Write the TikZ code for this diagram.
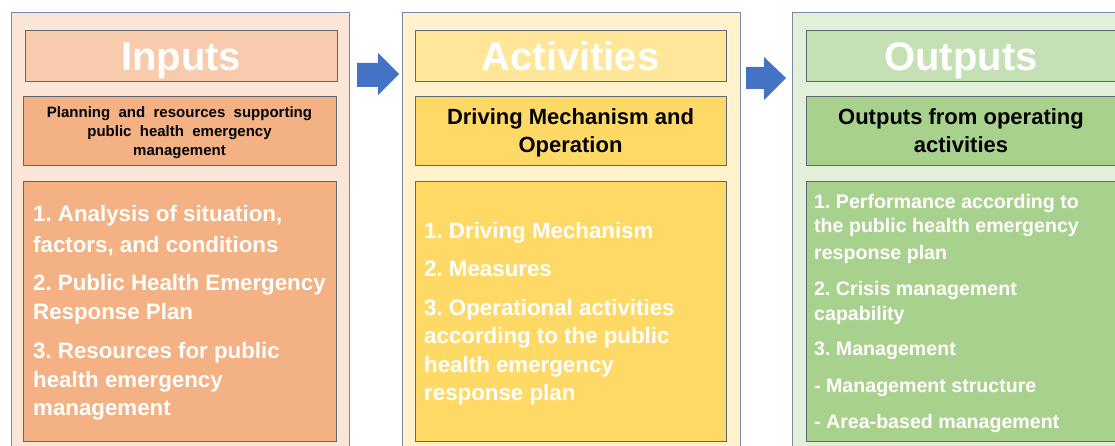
\documentclass[tikz,border=0pt]{standalone}
\usepackage{fontspec}
\setmainfont{Liberation Sans}
\newfontfamily\widefont[WordSpace=2.0]{Liberation Sans}
\frenchspacing
\definecolor{bgA}{HTML}{FBE5D6}
\definecolor{tiA}{HTML}{F8CBAD}
\definecolor{boA}{HTML}{F4B183}
\definecolor{bgB}{HTML}{FFF2CC}
\definecolor{tiB}{HTML}{FFE699}
\definecolor{boB}{HTML}{FFD966}
\definecolor{bgC}{HTML}{E2F0D9}
\definecolor{tiC}{HTML}{C5E0B4}
\definecolor{boC}{HTML}{A9D18E}
\definecolor{arrowblue}{HTML}{4472C4}
\definecolor{outerline}{HTML}{7A8AA6}
\definecolor{innerline}{HTML}{5E6977}
\begin{document}
\begin{tikzpicture}[x=1pt,y=-1pt,
  panel/.style={draw=outerline,line width=1pt},
  box/.style={draw=innerline,line width=1pt},
  titletext/.style={inner sep=0pt,anchor=base,text=white,font=\frenchspacing\bfseries\fontsize{40}{40}\selectfont},
  subtext/.style={inner sep=0pt,anchor=base,text=black,font=\frenchspacing\bfseries\fontsize{22}{22}\selectfont},
  subsmall/.style={inner sep=0pt,anchor=base,text=black,font=\frenchspacing\widefont\bfseries\fontsize{15}{15}\selectfont},
  lineA/.style={inner sep=0pt,anchor=base west,text=white,font=\frenchspacing\bfseries\fontsize{22.3}{22}\selectfont},
  lineC/.style={inner sep=0pt,anchor=base west,text=white,font=\frenchspacing\bfseries\fontsize{19.6}{19}\selectfont},
  blockarrow/.style={fill=arrowblue,draw=none}
]
\useasboundingbox (0,0) rectangle (1115,446);
\begin{scope}
\clip (0,0) rectangle (1115,446);
% panels
\filldraw[panel,fill=bgA] (11,13) rectangle (349,460);
\filldraw[panel,fill=bgB] (402,13) rectangle (740,460);
\filldraw[panel,fill=bgC] (792,13) rectangle (1130,460);
% title boxes
\filldraw[box,fill=tiA] (25,31) rectangle (337,82);
\filldraw[box,fill=tiB] (415,31) rectangle (726,82);
\filldraw[box,fill=tiC] (806,31) rectangle (1125,82);
% subtitle boxes
\filldraw[box,fill=boA] (23,97) rectangle (336,166);
\filldraw[box,fill=boB] (415,97) rectangle (726,166);
\filldraw[box,fill=boC] (806,97) rectangle (1125,166);
% content boxes
\filldraw[box,fill=boA] (23,182) rectangle (336,441);
\filldraw[box,fill=boB] (415,182) rectangle (726,441);
\filldraw[box,fill=boC] (806,182) rectangle (1125,441);
\end{scope}
% arrows
\fill[blockarrow] (357,63) -- (378,63) -- (378,53) -- (399,74) -- (378,95) -- (378,87) -- (357,87) -- cycle;
\fill[blockarrow] (746,67) -- (764,67) -- (764,57) -- (786,78) -- (764,100) -- (764,89) -- (746,89) -- cycle;
% titles
\node[titletext] (tA) at (181,71) {Inputs};
\node[titletext] (tB) at (570.5,71) {Activities};
\node[titletext] (tC) at (961,71) {Outputs};
% subtitles
\node[subsmall] (sA1) at (179.5,118) {Planning and resources supporting};
\node[subsmall] (sA2) at (179.5,137) {public health emergency};
\node[subsmall] (sA3) at (179.5,156) {management};
\node[subtext] (sB1) at (570.5,125) {Driving Mechanism and};
\node[subtext] (sB2) at (570.5,153) {Operation};
\node[subtext] (sC1) at (961,125) {Outputs from operating};
\node[subtext] (sC2) at (961,153) {activities};
% content A
\node[lineA] (a1) at (33,222) {1. Analysis of situation,};
\node[lineA] (a2) at (33,252) {factors, and conditions};
\node[lineA] (a3) at (33,290) {2. Public Health Emergency};
\node[lineA] (a4) at (33,319) {Response Plan};
\node[lineA] (a5) at (33,358) {3. Resources for public};
\node[lineA] (a6) at (33,387) {health emergency};
\node[lineA] (a7) at (33,415) {management};
% content B
\node[lineA] (b1) at (424,238) {1. Driving Mechanism};
\node[lineA] (b2) at (424,276) {2. Measures};
\node[lineA] (b3) at (424,315) {3. Operational activities};
\node[lineA] (b4) at (424,343) {according to the public};
\node[lineA] (b5) at (424,372) {health emergency};
\node[lineA] (b6) at (424,400) {response plan};
% content C
\node[lineC] (c1) at (814,209) {1. Performance according to};
\node[lineC] (c2) at (814,233) {the public health emergency};
\node[lineC] (c3) at (814,259) {response plan};
\node[lineC] (c4) at (814,295) {2. Crisis management};
\node[lineC] (c5) at (814,320) {capability};
\node[lineC] (c6) at (814,355) {3. Management};
\node[lineC] (c7) at (814,392) {- Management structure};
\node[lineC] (c8) at (814,428) {- Area-based management};
\end{tikzpicture}
\end{document}
